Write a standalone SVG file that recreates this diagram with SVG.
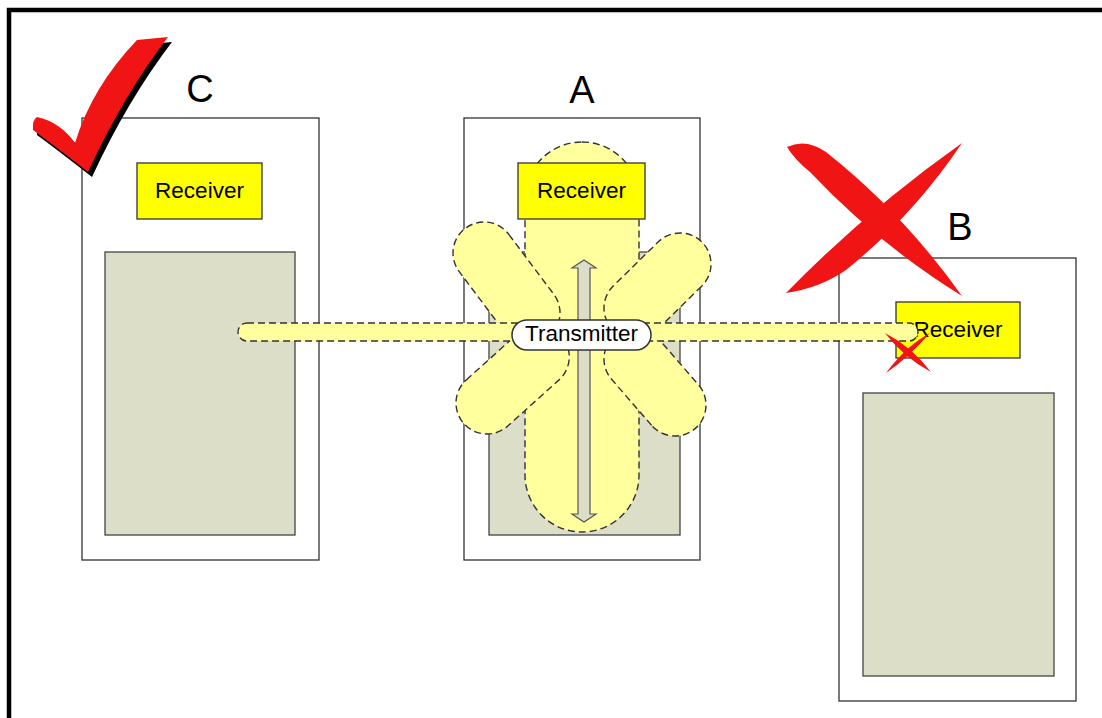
<svg xmlns="http://www.w3.org/2000/svg" width="1102" height="718" viewBox="0 0 1102 718">
<style>
.outer{fill:#ffffff;stroke:#333333;stroke-width:1.3}
.screen{fill:#dcdec8;stroke:#444444;stroke-width:1.3}
.rx{fill:#ffff00;stroke:#333333;stroke-width:1.3}
.lobe{fill:#ffff9e;stroke:#333333;stroke-width:1.4;stroke-dasharray:7 4}
.lbl{font-family:"Liberation Sans",Arial,sans-serif;font-size:22.5px;fill:#000;text-anchor:middle}
.big{font-family:"Liberation Sans",Arial,sans-serif;font-size:38px;fill:#000;text-anchor:middle}
.red{fill:#f01414}
</style>
<rect x="0" y="0" width="1102" height="718" fill="#ffffff"/>
<rect x="9" y="10" width="1200" height="800" fill="none" stroke="#000" stroke-width="4.5"/>

<g id="device-C">
  <rect class="outer" x="82" y="118" width="237" height="442"/>
  <rect class="screen" x="105" y="252" width="190" height="283"/>
  <text class="big" x="200" y="102">C</text>
</g>
<g id="receiver-C">
  <rect class="rx" x="137" y="163" width="125" height="56"/>
  <text class="lbl" x="199.5" y="198">Receiver</text>
</g>

<g id="device-A">
  <rect class="outer" x="464" y="118" width="236" height="442"/>
  <rect class="screen" x="489" y="252" width="191" height="283"/>
  <text class="big" x="582" y="103">A</text>
</g>

<g id="device-B">
  <rect class="outer" x="839" y="258" width="237" height="443"/>
  <rect class="screen" x="863" y="393" width="191" height="283"/>
  <text class="big" x="960" y="240">B</text>
</g>
<g id="receiver-B">
  <rect class="rx" x="896" y="302" width="124" height="56"/>
  <text class="lbl" x="958" y="337">Receiver</text>
</g>

<g id="radiation">
  <rect class="lobe" x="525" y="142" width="114" height="390" rx="57"/>
  <rect class="lobe" x="-31" y="-31" width="137" height="62" rx="31" transform="translate(484,253) rotate(53.1)"/>
  <rect class="lobe" x="-31" y="-31" width="125" height="62" rx="31" transform="translate(680,264) rotate(135.6)"/>
  <rect class="lobe" x="-31" y="-31" width="131" height="62" rx="31" transform="translate(487,403) rotate(-42)"/>
  <rect class="lobe" x="-31" y="-31" width="123" height="62" rx="31" transform="translate(675,405) rotate(-131)"/>
</g>

<g id="receiver-A">
  <rect class="rx" x="518" y="163" width="127" height="56"/>
  <text class="lbl" x="581.5" y="198">Receiver</text>
</g>

<g id="connectors">
  <path d="M584,260 L596,268 L590,268 L590,514 L596,514 L584,522 L572,514 L578,514 L578,268 L572,268 Z" fill="#dcdec8" stroke="#555555" stroke-width="1.2"/>
  <rect class="lobe" x="238" y="323" width="680" height="18" rx="9"/>
</g>

<g id="transmitter">
  <rect x="512" y="320" width="139" height="30" rx="15" fill="#ffffff" stroke="#333333" stroke-width="1.5"/>
  <text class="lbl" x="581.5" y="341">Transmitter</text>
</g>

<g id="check-mark">
  <path d="M 37,117 Q 60,122 75,143 Q 92,87 137,40 L 168,37 Q 123,96 88,172 Q 53.5,145 33,130 Q 32,120 37,117 Z" fill="#000" transform="translate(4,5)"/>
  <path class="red" d="M 37,117 Q 60,122 75,143 Q 92,87 137,40 L 168,37 Q 123,96 88,172 Q 53.5,145 33,130 Q 32,120 37,117 Z"/>
</g>

<g id="cross-mark">
  <path class="red" d="M 787,147 Q 806,138 826,152 Q 903,213 962,296 Q 878,244 810,172 Q 795,160 787,147 Z"/>
  <path class="red" d="M 962,143 Q 913,216 846,270 Q 820,288 786,293 Q 866,211 962,143 Z"/>
</g>

<g id="small-cross">
  <path class="red" d="M 885,333 Q 912,347 931,372 Q 903,357 885,333 Z"/>
  <path class="red" d="M 930,333 Q 907,359 886,373 Q 906,346 930,333 Z"/>
</g>
</svg>
